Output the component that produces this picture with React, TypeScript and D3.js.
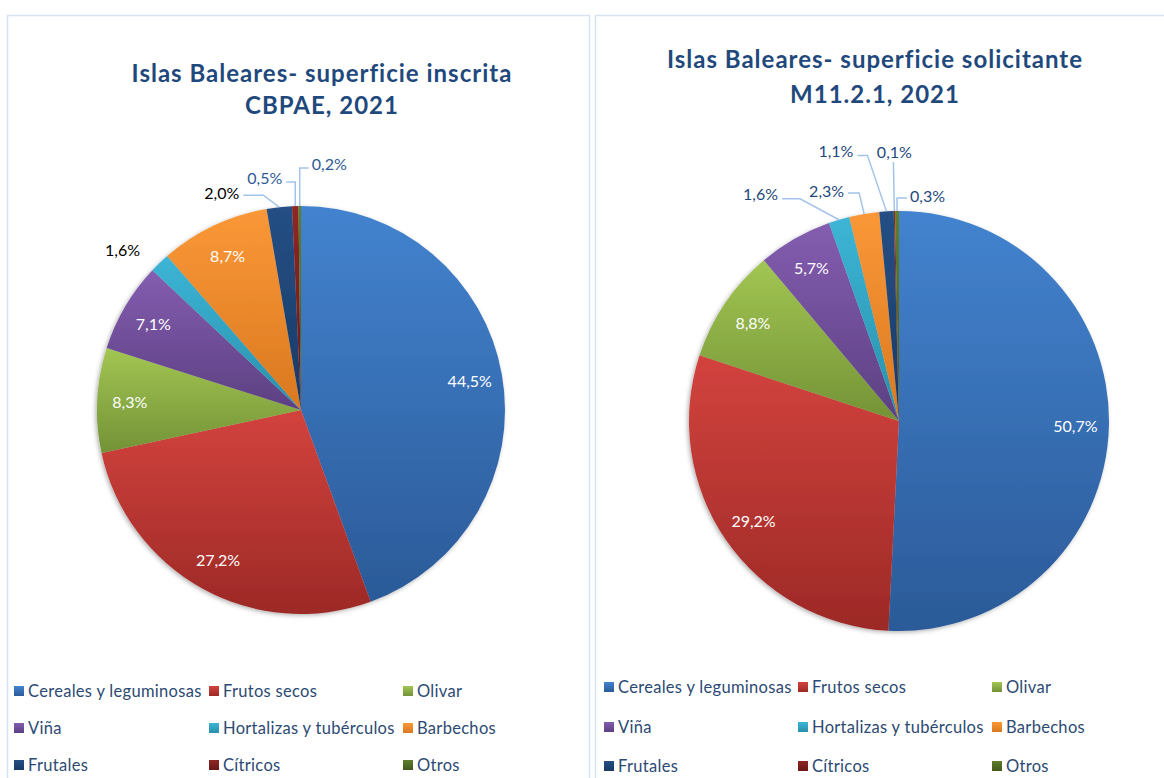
import React from "react";
import * as d3 from "d3";

const categories = [
  "Cereales y leguminosas",
  "Frutos secos",
  "Olivar",
  "Viña",
  "Hortalizas y tubérculos",
  "Barbechos",
  "Frutales",
  "Cítricos",
  "Otros",
];
const inscritaValues = [44.5, 27.2, 8.3, 7.1, 1.6, 8.7, 2.0, 0.5, 0.2];
const solicitanteValues = [50.7, 29.2, 8.8, 5.7, 1.6, 2.3, 1.1, 0.1, 0.3];
const titleInscrita = ["Islas Baleares- superficie inscrita", "CBPAE, 2021"];
const titleSolicitante = ["Islas Baleares- superficie solicitante", "M11.2.1, 2021"];

// gradient colors [top, bottom]
const sliceColors: [string, string][] = [
  ["#4383CF", "#2B5A98"],
  ["#D3433E", "#9C2926"],
  ["#A2C653", "#739236"],
  ["#845DB0", "#5C4082"],
  ["#3DB5D6", "#2890AB"],
  ["#FA9838", "#DA7820"],
  ["#254F85", "#183A66"],
  ["#8E2725", "#681917"],
  ["#5E7F2C", "#42591D"],
];

const TITLE_COLOR = "#1F497D";
const LEGEND_COLOR = "#2C4A73";
const LEADER_COLOR = "#A3C3E8";
const FONT = "Lato, 'Open Sans', sans-serif";

type Outside = {
  idx: number;
  pts: [number, number][]; // offsets from slice outer point
  anchor: "start" | "middle" | "end";
  tdx: number;
  tdy: number;
  color: string;
  leader: boolean;
};

const fmt = (v: number) => d3.format(".1f")(v).replace(".", ",") + "%";

function PieChart(props: {
  id: string;
  values: number[];
  cx: number;
  cy: number;
  r: number;
  title: string[];
  titleX: number;
  titleY: number[];
  outside: Outside[];
  legendX: number[];
  legendY: number[];
}) {
  const { id, values, cx, cy, r, title, titleX, titleY, outside, legendX, legendY } = props;
  const pie = d3.pie<number>().sort(null).value((d) => d);
  const arcs = pie(values);
  const arc = d3.arc<d3.PieArcDatum<number>>().innerRadius(0).outerRadius(r);
  const labelArc = d3.arc<d3.PieArcDatum<number>>().innerRadius(r * 0.84).outerRadius(r * 0.84);
  const outsideIdx = new Set(outside.map((o) => o.idx));
  const outerPoint = (a: d3.PieArcDatum<number>): [number, number] => {
    const m = (a.startAngle + a.endAngle) / 2;
    return [cx + r * Math.sin(m), cy - r * Math.cos(m)];
  };
  return (
    <g>
      <defs>
        {sliceColors.map((c, i) => (
          <linearGradient key={i} id={`${id}-g${i}`} x1="0" y1="0" x2="0" y2="1">
            <stop offset="0" stopColor={c[0]} />
            <stop offset="1" stopColor={c[1]} />
          </linearGradient>
        ))}
        <filter id={`${id}-sh`} x="-10%" y="-10%" width="120%" height="120%">
          <feDropShadow dx="-1.5" dy="1.5" stdDeviation="2" floodColor="#000" floodOpacity="0.3" />
        </filter>
      </defs>
      {title.map((t, i) => (
        <text
          key={i}
          x={titleX}
          y={titleY[i]}
          textAnchor="middle"
          dominantBaseline="central"
          fontFamily={FONT}
          fontWeight="bold"
          fontSize={24}
          letterSpacing={1}
          fill={TITLE_COLOR}
        >
          {t}
        </text>
      ))}
      <g transform={`translate(${cx},${cy})`} filter={`url(#${id}-sh)`}>
        {arcs.map((a, i) => (
          <path key={i} d={arc(a) || ""} fill={`url(#${id}-g${i})`} />
        ))}
      </g>
      {arcs.map((a, i) => {
        if (outsideIdx.has(i)) return null;
        const [x, y] = labelArc.centroid(a);
        return (
          <text
            key={i}
            x={cx + x}
            y={cy + y}
            textAnchor="middle"
            dominantBaseline="central"
            fontFamily={FONT}
            fontSize={16}
            fill="#FFFFFF"
          >
            {fmt(values[i])}
          </text>
        );
      })}
      {outside.map((o) => {
        const a = arcs[o.idx];
        const [px, py] = outerPoint(a);
        const pts = o.pts.map(([dx, dy]) => [px + dx, py + dy] as [number, number]);
        const end = pts[pts.length - 1];
        return (
          <g key={o.idx}>
            {o.leader && (
              <path
                d={d3.line()(pts) || ""}
                fill="none"
                stroke={LEADER_COLOR}
                strokeWidth={1.5}
              />
            )}
            <text
              x={end[0] + o.tdx}
              y={end[1] + o.tdy}
              textAnchor={o.anchor}
              dominantBaseline="central"
              fontFamily={FONT}
              fontSize={16}
              fill={o.color}
            >
              {fmt(values[o.idx])}
            </text>
          </g>
        );
      })}
      {categories.map((c, i) => {
        const col = i % 3;
        const row = Math.floor(i / 3);
        const x = legendX[col];
        const y = legendY[row];
        return (
          <g key={c}>
            <rect x={x} y={y - 5} width={10} height={10} fill={`url(#${id}-g${i})`} />
            <text
              x={x + 14}
              y={y}
              dominantBaseline="central"
              fontFamily={FONT}
              fontSize={16.5}
              letterSpacing={0.3}
              fill={LEGEND_COLOR}
            >
              {c}
            </text>
          </g>
        );
      })}
    </g>
  );
}

const leftOutside: Outside[] = [
  { idx: 4, pts: [[-37, -13]], anchor: "middle", tdx: 0, tdy: 0, color: "#000000", leader: false },
  { idx: 6, pts: [[0, 0], [-16, -12], [-36, -12]], anchor: "end", tdx: -4, tdy: -3, color: "#000000", leader: true },
  { idx: 7, pts: [[0, 0], [0, -24], [-9, -24]], anchor: "end", tdx: -4, tdy: -5, color: "#2F5A96", leader: true },
  { idx: 8, pts: [[0, 0], [0, -38], [9, -38]], anchor: "start", tdx: 3, tdy: -5, color: "#2F5A96", leader: true },
];

const rightOutside: Outside[] = [
  { idx: 4, pts: [[0, 0], [-39, -21], [-57, -21]], anchor: "end", tdx: -4, tdy: -5, color: "#1F497D", leader: true },
  { idx: 5, pts: [[0, 0], [-5, -21], [-16, -21]], anchor: "end", tdx: -4, tdy: -2, color: "#1F497D", leader: true },
  { idx: 6, pts: [[0, 0], [-19, -56], [-29, -56]], anchor: "end", tdx: -4, tdy: -5, color: "#1F497D", leader: true },
  { idx: 7, pts: [[0, 0], [-1, -49]], anchor: "middle", tdx: 1, tdy: -11, color: "#1F497D", leader: true },
  { idx: 8, pts: [[0, 0], [0, -13], [10, -13]], anchor: "start", tdx: 3, tdy: -3, color: "#1F497D", leader: true },
];

export default function App() {
  return (
    <svg
      width={1164}
      height={778}
      style={{ position: "absolute", left: 0, top: 0, background: "#FFFFFF" }}
    >
      <rect x={7.5} y={15.5} width={582} height={800} fill="#FFFFFF" stroke="#D5E3F3" strokeWidth={1.5} />
      <rect x={595.5} y={15.5} width={620} height={800} fill="#FFFFFF" stroke="#D5E3F3" strokeWidth={1.5} />
      <PieChart
        id="l"
        values={inscritaValues}
        cx={301}
        cy={410}
        r={204}
        title={titleInscrita}
        titleX={322}
        titleY={[72, 104]}
        outside={leftOutside}
        legendX={[14, 209, 403]}
        legendY={[691, 728, 765]}
      />
      <PieChart
        id="r"
        values={solicitanteValues}
        cx={899}
        cy={421}
        r={210}
        title={titleSolicitante}
        titleX={875}
        titleY={[58, 93]}
        outside={rightOutside}
        legendX={[604, 798, 992]}
        legendY={[687, 727, 766]}
      />
    </svg>
  );
}
